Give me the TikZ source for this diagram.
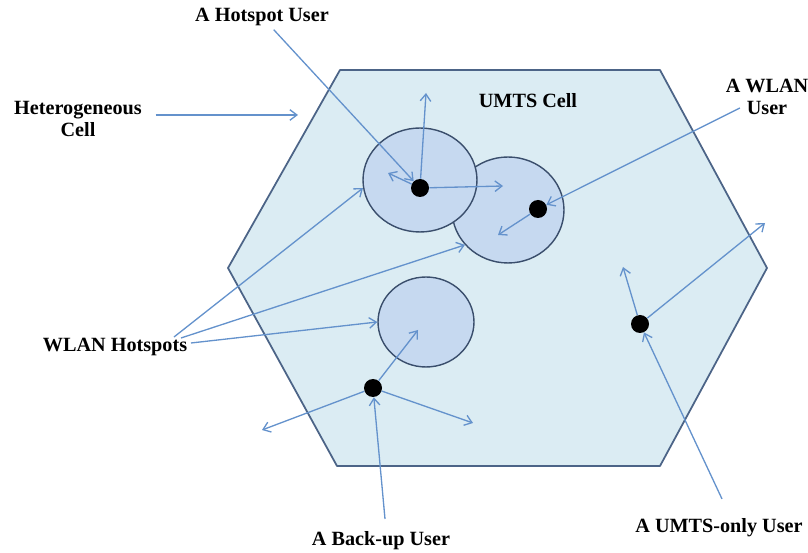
\documentclass[tikz,border=0pt]{standalone}
\usepackage{fontspec}
\setmainfont{Liberation Serif}
\usetikzlibrary{shapes.geometric,arrows.meta}

\definecolor{cellfill}{RGB}{219,236,243}
\definecolor{celledge}{RGB}{76,100,135}
\definecolor{spotfill}{RGB}{198,217,240}
\definecolor{spotedge}{RGB}{58,78,108}
\definecolor{link}{RGB}{100,146,204}

\tikzset{
	cell/.style={draw=celledge,fill=cellfill,line width=1pt,line join=round},
	hotspot/.style={ellipse,draw=spotedge,fill=spotfill,line width=0.8pt,inner sep=0pt},
	user/.style={circle,fill=black,minimum size=0.36cm,inner sep=0pt},
	lbl/.style={font=\bfseries\fontsize{11.5}{13}\selectfont,align=center,inner sep=2pt},
	pointer/.style={draw=link,line width=0.75pt,-{Straight Barb[length=4pt,width=6pt]}}
}

\begin{document}
\begin{tikzpicture}[x=0.02cm,y=-0.02cm]
	\useasboundingbox (0,0) rectangle (808,553);
	% the UMTS cell
	\draw[cell] (340,70) -- (660,70) -- (767,268) -- (660,466) -- (337,466) -- (228,268) -- cycle;
	% WLAN hotspots
	\node[hotspot,minimum width=2.24cm,minimum height=2.12cm] (hs2) at (508,210) {};
	\node[hotspot,minimum width=2.28cm,minimum height=2.08cm] (hs1) at (420,180) {};
	\node[hotspot,minimum width=1.92cm,minimum height=1.8cm] (hs3) at (426,322) {};
	% users
	\node[user] (hu) at (420,188) {};
	\node[user] (wu) at (538,209) {};
	\node[user] (bu) at (373,388) {};
	\node[user] (uu) at (640,324) {};
	% labels
	\node[lbl] (lhu) at (262,17) {A Hotspot User};
	\node[lbl] (het) at (78,119) {Heterogeneous\\Cell};
	\node[lbl] (umts) at (528,101) {UMTS Cell};
	\node[lbl] (lwu) at (767,97) {A WLAN\\User};
	\node[lbl] (lwh) at (115,347) {WLAN Hotspots};
	\node[lbl] (lbu) at (381,541) {A Back-up User};
	\node[lbl] (lum) at (719,528) {A UMTS-only User};
	% where the users move to
	\coordinate (hu1) at (426,93);
	\coordinate (hu2) at (503,186);
	\coordinate (hu3) at (388,173);
	\coordinate (wu1) at (498,235);
	\coordinate (bu1) at (418,330);
	\coordinate (bu2) at (262,430);
	\coordinate (bu3) at (473,423);
	\coordinate (uu1) at (623,267);
	\coordinate (uu2) at (765,223);
	\coordinate (hetend) at (298,115);
	\foreach \u/\t in {hu/hu1,hu/hu2,hu/hu3,wu/wu1,bu/bu1,bu/bu2,bu/bu3,uu/uu1,uu/uu2}
		\draw[pointer] (\u) -- (\t);
	% label pointers
	\draw[pointer] (lhu) -- (hu);
	\draw[pointer] ([shift={(10,-4)}]het.east) -- (hetend);
	\draw[pointer] ([shift={(18,11)}]lwu.west) -- (wu);
	\draw[pointer] ([shift={(-17,-10)}]lwh.east) -- (hs1.188);
	\draw[pointer] ([shift={(-10,-9)}]lwh.east) -- (hs2.219);
	\draw[pointer] ([shift={(0,-4)}]lwh.east) -- (hs3.west);
	\draw[pointer] ([shift={(4,-9)}]lbu.north) -- (bu);
	\draw[pointer] ([shift={(3,-16)}]lum.north) -- (uu);
\end{tikzpicture}
\end{document}
